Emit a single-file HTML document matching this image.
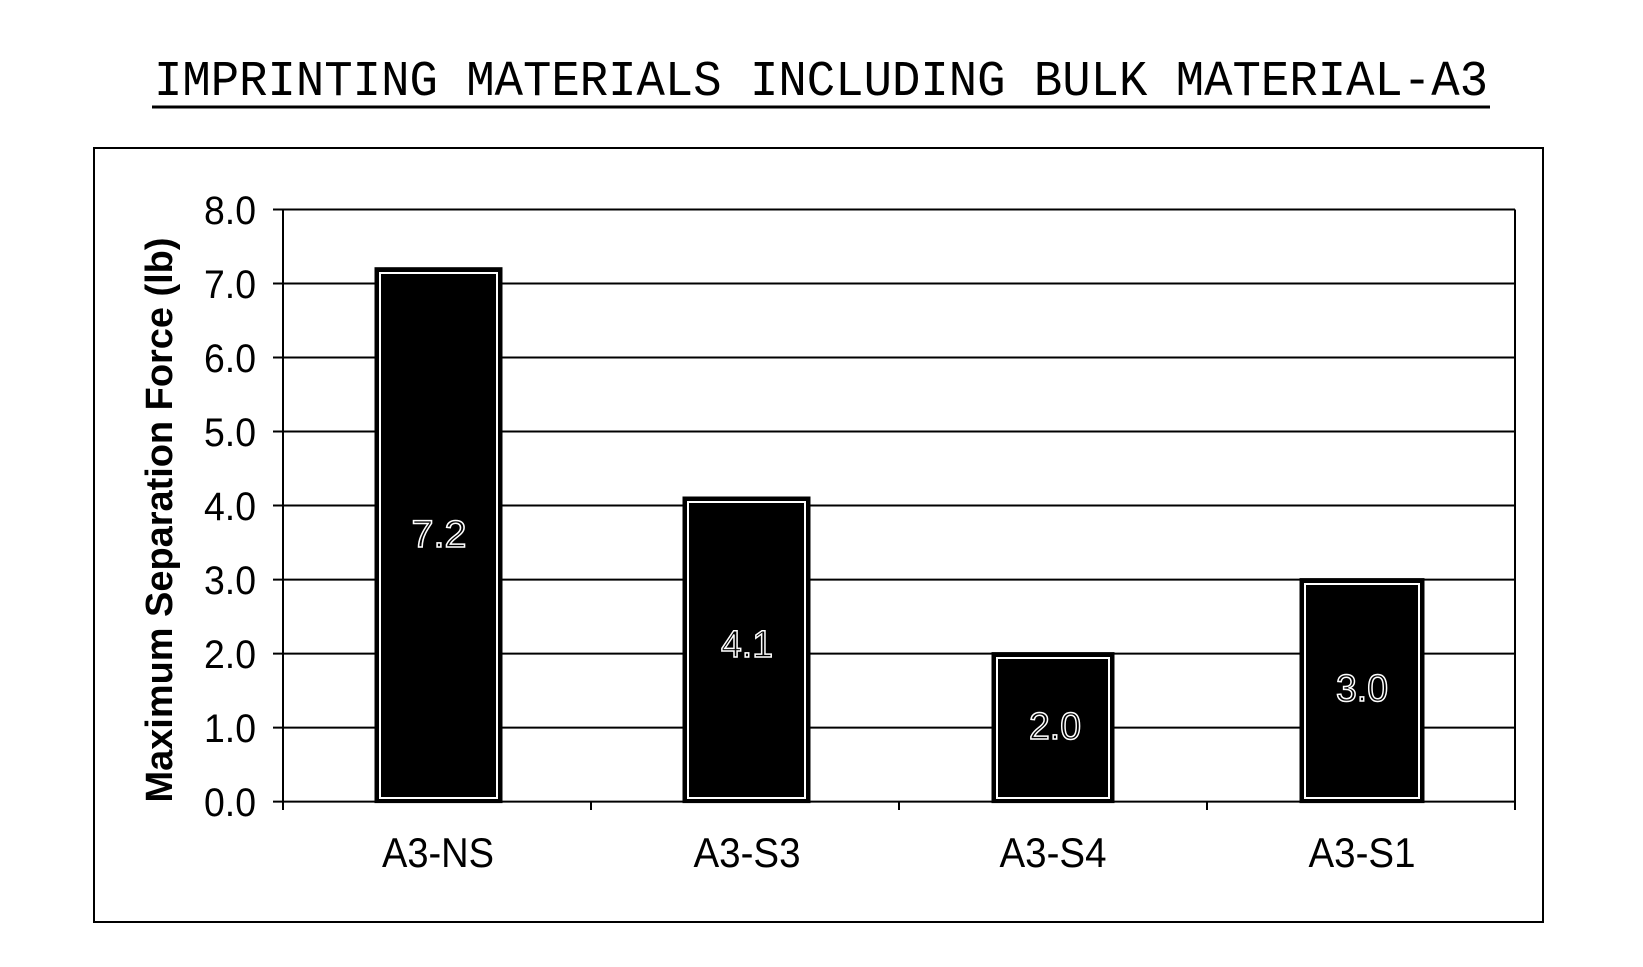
<!DOCTYPE html>
<html><head><meta charset="utf-8"><style>
html,body{margin:0;padding:0;background:#fff;}
svg{display:block;}
</style></head><body>
<svg width="1643" height="967" viewBox="0 0 1643 967" xmlns="http://www.w3.org/2000/svg">
<rect width="1643" height="967" fill="#fff"/>
<text x="821" y="95" text-anchor="middle" font-family="Liberation Mono, monospace" font-size="50" textLength="1334" lengthAdjust="spacingAndGlyphs" fill="#000">IMPRINTING MATERIALS INCLUDING BULK MATERIAL-A3</text>
<line x1="152" y1="107" x2="1490" y2="107" stroke="#000" stroke-width="3"/>
<rect x="94" y="148" width="1449" height="774" fill="none" stroke="#000" stroke-width="2"/>
<g stroke="#000" stroke-width="2">
<line x1="273" y1="209.5" x2="1515" y2="209.5"/>
<line x1="273" y1="283.5" x2="1515" y2="283.5"/>
<line x1="273" y1="357.5" x2="1515" y2="357.5"/>
<line x1="273" y1="431.5" x2="1515" y2="431.5"/>
<line x1="273" y1="505.5" x2="1515" y2="505.5"/>
<line x1="273" y1="579.6" x2="1515" y2="579.6"/>
<line x1="273" y1="653.6" x2="1515" y2="653.6"/>
<line x1="273" y1="727.6" x2="1515" y2="727.6"/>
<line x1="273" y1="801.6" x2="1515" y2="801.6"/>
<line x1="283" y1="209.5" x2="283" y2="810"/>
<line x1="1515" y1="209.5" x2="1515" y2="810"/>
<line x1="591" y1="801.6" x2="591" y2="810"/>
<line x1="899" y1="801.6" x2="899" y2="810"/>
<line x1="1207" y1="801.6" x2="1207" y2="810"/>
</g>
<g fill="#000" stroke="#000" stroke-width="3">
<rect x="376" y="268.7" width="125" height="532.9"/>
<rect x="684" y="498" width="125" height="303.6"/>
<rect x="993" y="653.6" width="120" height="148"/>
<rect x="1301" y="579.6" width="122" height="222"/>
</g>
<g fill="none" stroke="#fff" stroke-width="2">
<rect x="380" y="273" width="117" height="525"/>
<rect x="688" y="502" width="117" height="296"/>
<rect x="997" y="658" width="112" height="140"/>
<rect x="1305" y="584" width="114" height="214"/>
</g>
<g font-family="Liberation Sans, sans-serif" font-size="40" text-anchor="end" fill="#000">
<text x="256" y="224" textLength="52" lengthAdjust="spacingAndGlyphs">8.0</text>
<text x="256" y="298" textLength="52" lengthAdjust="spacingAndGlyphs">7.0</text>
<text x="256" y="372" textLength="52" lengthAdjust="spacingAndGlyphs">6.0</text>
<text x="256" y="446" textLength="52" lengthAdjust="spacingAndGlyphs">5.0</text>
<text x="256" y="520" textLength="52" lengthAdjust="spacingAndGlyphs">4.0</text>
<text x="256" y="594" textLength="52" lengthAdjust="spacingAndGlyphs">3.0</text>
<text x="256" y="668" textLength="52" lengthAdjust="spacingAndGlyphs">2.0</text>
<text x="256" y="742" textLength="52" lengthAdjust="spacingAndGlyphs">1.0</text>
<text x="256" y="816" textLength="52" lengthAdjust="spacingAndGlyphs">0.0</text>
</g>
<text transform="translate(172,520) rotate(-90)" text-anchor="middle" font-family="Liberation Sans, sans-serif" font-weight="bold" font-size="38" textLength="565" lengthAdjust="spacingAndGlyphs" fill="#000">Maximum Separation Force (lb)</text>
<g font-family="Liberation Sans, sans-serif" font-size="42" text-anchor="middle" fill="#000">
<text x="438" y="867" textLength="112" lengthAdjust="spacingAndGlyphs">A3-NS</text>
<text x="747" y="867" textLength="107" lengthAdjust="spacingAndGlyphs">A3-S3</text>
<text x="1053" y="867" textLength="107" lengthAdjust="spacingAndGlyphs">A3-S4</text>
<text x="1362" y="867" textLength="107" lengthAdjust="spacingAndGlyphs">A3-S1</text>
</g>
<g font-family="Liberation Sans, sans-serif" font-size="38" text-anchor="middle" fill="#000" stroke="#fff" stroke-width="1.5">
<text x="439" y="547" textLength="55" lengthAdjust="spacingAndGlyphs">7.2</text>
<text x="747" y="657" textLength="52" lengthAdjust="spacingAndGlyphs">4.1</text>
<text x="1055" y="739" textLength="52" lengthAdjust="spacingAndGlyphs">2.0</text>
<text x="1362" y="701" textLength="52" lengthAdjust="spacingAndGlyphs">3.0</text>
</g>
</svg>
</body></html>
